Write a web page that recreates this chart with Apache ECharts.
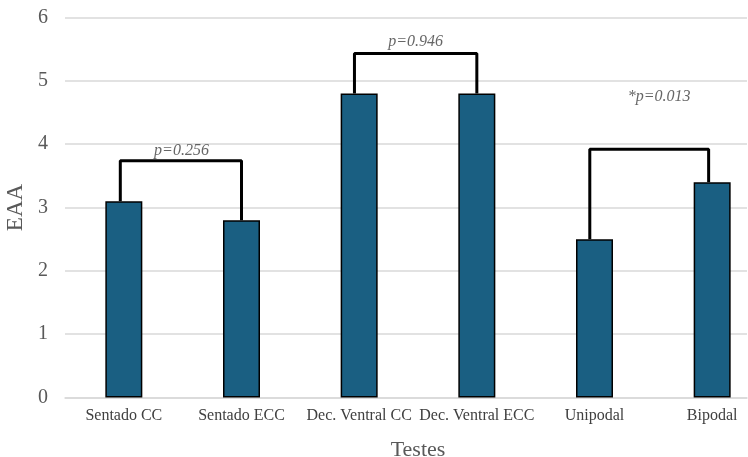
<!DOCTYPE html>
<html>
<head>
<meta charset="utf-8">
<script src="https://cdn.jsdelivr.net/npm/echarts@6/dist/echarts.min.js"></script>
<style>
  html, body { margin: 0; padding: 0; background: #fff; }
  #chart { width: 748px; height: 457px; }
</style>
</head>
<body>
<div id="chart"></div>
<script>
// categories and bar values
var categories = ['Sentado CC', 'Sentado ECC', 'Dec. Ventral CC', 'Dec. Ventral ECC', 'Unipodal', 'Bipodal'];
var eaaValues = [3.1, 2.8, 4.8, 4.8, 2.5, 3.4];
var yTicks = [0, 6, 1]; // min, max, interval

// comparison brackets: x in category index units, y in EAA units
var bracketLeftX = [-0.03, 1.96, 3.96];
var bracketRightX = [1.0, 3.0, 4.97];
var bracketTop = [3.74, 5.43, 3.92];
var bracketLeftIdx = [0, 2, 4];
var bracketRightIdx = [1, 3, 5];

// p-value labels
var pLabels = ['p=0.256', 'p=0.946', '*p=0.013'];
var pLabelX = [0.49, 2.48, 4.55];
var pLabelY = [3.9, 5.61, 4.75];

var serif = '"Liberation Serif", "DejaVu Serif", serif';
var chart = echarts.init(document.getElementById('chart'));

var bracketSeries = bracketTop.map(function (top, i) {
  return {
    type: 'line',
    xAxisIndex: 2,
    yAxisIndex: 1,
    symbol: 'none',
    silent: true,
    z: 5,
    lineStyle: { color: '#000', width: 3 },
    data: [
      [bracketLeftX[i], eaaValues[bracketLeftIdx[i]]],
      [bracketLeftX[i], top],
      [bracketRightX[i], top],
      [bracketRightX[i], eaaValues[bracketRightIdx[i]]]
    ]
  };
});

var option = {
  animation: false,
  backgroundColor: '#fff',
  grid: [
    { left: 65, right: 1, top: 17.5, bottom: 59.5, outerBoundsMode: 'none' },
    { left: 65, width: 706, top: 17.5, bottom: 59.5, outerBoundsMode: 'none' }
  ],
  xAxis: [
    {
      gridIndex: 0, type: 'value', min: 0, max: 1,
      axisLine: { show: true, lineStyle: { color: '#d9d9d9', width: 1.5 } },
      axisTick: { show: false }, axisLabel: { show: false }, splitLine: { show: false }
    },
    {
      gridIndex: 1, type: 'category', data: categories,
      axisLine: { show: false }, axisTick: { show: false },
      axisLabel: { interval: 0, color: '#404040', fontFamily: serif, fontSize: 16, margin: 10 },
      name: 'Testes', nameLocation: 'middle', nameGap: 42,
      nameTextStyle: { color: '#595959', fontFamily: serif, fontSize: 22 }
    },
    { gridIndex: 1, type: 'value', min: -0.5, max: 5.5, show: false }
  ],
  yAxis: [
    {
      gridIndex: 0, type: 'value', min: yTicks[0], max: yTicks[1], interval: yTicks[2],
      axisLine: { show: false }, axisTick: { show: false },
      axisLabel: { color: '#595959', fontFamily: serif, fontSize: 20, margin: 17 },
      splitLine: { lineStyle: { color: '#d9d9d9', width: 1.5 } },
      name: 'EAA', nameLocation: 'middle', nameGap: 38, nameRotate: 90,
      nameTextStyle: { color: '#595959', fontFamily: serif, fontSize: 23 }
    },
    { gridIndex: 1, type: 'value', min: yTicks[0], max: yTicks[1], show: false }
  ],
  series: [
    {
      type: 'bar',
      xAxisIndex: 1,
      yAxisIndex: 1,
      data: eaaValues,
      barWidth: 37,
      itemStyle: { color: '#1a5f82', borderColor: '#000', borderWidth: 1.5 }
    }
  ].concat(bracketSeries).concat([
    {
      type: 'scatter',
      xAxisIndex: 2,
      yAxisIndex: 1,
      symbolSize: 0,
      silent: true,
      data: pLabels.map(function (t, i) { return { name: t, value: [pLabelX[i], pLabelY[i]] }; }),
      label: {
        show: true, position: 'inside', formatter: '{b}',
        color: '#404040', fontFamily: serif, fontSize: 16, fontStyle: 'italic'
      }
    }
  ])
};

chart.setOption(option);
</script>
</body>
</html>
